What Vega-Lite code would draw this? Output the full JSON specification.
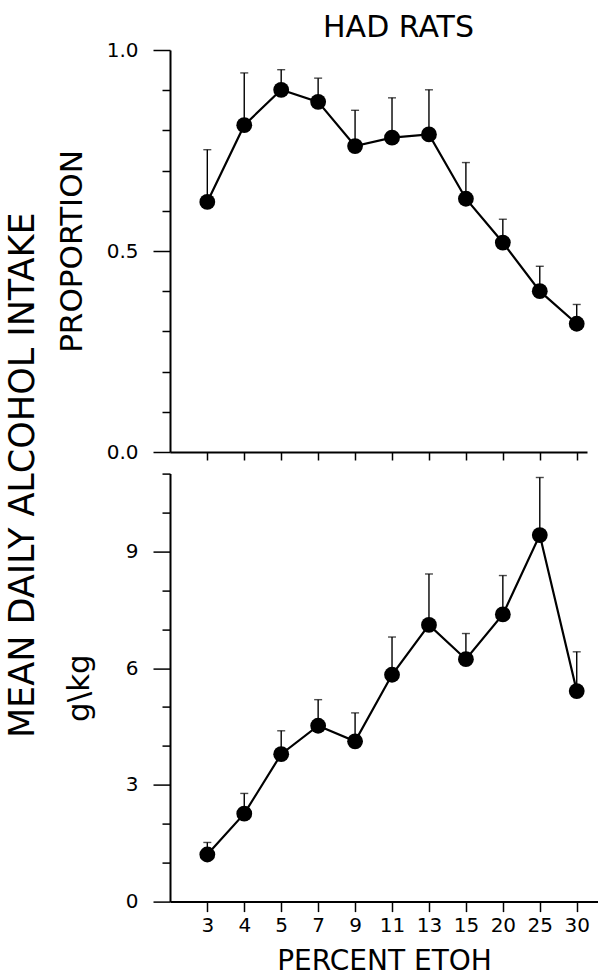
{
  "$schema": "https://vega.github.io/schema/vega-lite/v6.json",
  "background": "white",
  "padding": {"left": 5, "top": 13, "right": 0, "bottom": 0},
  "title": {
    "text": "MEAN DAILY ALCOHOL INTAKE",
    "orient": "left",
    "anchor": "middle",
    "fontSize": 35,
    "fontWeight": "normal",
    "font": "DejaVu Sans",
    "color": "black",
    "offset": 15,
    "dx": 19
  },
  "data": {
    "values": [
      {"pct": 3, "prop": 0.622, "prop_hi": 0.752, "gkg": 1.21, "gkg_hi": 1.52},
      {"pct": 4, "prop": 0.813, "prop_hi": 0.943, "gkg": 2.26, "gkg_hi": 2.78},
      {"pct": 5, "prop": 0.901, "prop_hi": 0.951, "gkg": 3.79, "gkg_hi": 4.39},
      {"pct": 7, "prop": 0.871, "prop_hi": 0.930, "gkg": 4.52, "gkg_hi": 5.19},
      {"pct": 9, "prop": 0.761, "prop_hi": 0.850, "gkg": 4.12, "gkg_hi": 4.85},
      {"pct": 11, "prop": 0.782, "prop_hi": 0.881, "gkg": 5.83, "gkg_hi": 6.80},
      {"pct": 13, "prop": 0.790, "prop_hi": 0.901, "gkg": 7.11, "gkg_hi": 8.42},
      {"pct": 15, "prop": 0.630, "prop_hi": 0.720, "gkg": 6.23, "gkg_hi": 6.89},
      {"pct": 20, "prop": 0.521, "prop_hi": 0.579, "gkg": 7.38, "gkg_hi": 8.38},
      {"pct": 25, "prop": 0.400, "prop_hi": 0.462, "gkg": 9.42, "gkg_hi": 10.90},
      {"pct": 30, "prop": 0.319, "prop_hi": 0.367, "gkg": 5.41, "gkg_hi": 6.42}
    ]
  },
  "spacing": 10.6,
  "resolve": {"scale": {"x": "independent", "y": "independent"}},
  "vconcat": [
    {
      "width": 417,
      "height": 402,
      "title": {
        "text": "HAD RATS",
        "fontSize": 30,
        "fontWeight": "normal",
        "font": "DejaVu Sans",
        "color": "black",
        "anchor": "middle",
        "dx": 20,
        "offset": -3
      },
      "encoding": {
        "x": {
          "field": "pct",
          "type": "ordinal",
          "scale": {"type": "point", "padding": 0.644, "align": 0.784},
          "axis": {"labels": false, "title": null, "tickSize": 8, "domainWidth": 2, "tickWidth": 1.5}
        }
      },
      "resolve": {"axis": {"y": "independent"}},
      "layer": [
        {
          "mark": {"type": "rule", "color": "black", "strokeWidth": 1.4},
          "encoding": {
            "y": {
              "field": "prop", "type": "quantitative",
              "scale": {"domain": [0, 1], "nice": false, "zero": true},
              "axis": {"orient": "left", "values": [0.1, 0.2, 0.3, 0.4, 0.6, 0.7, 0.8, 0.9], "labels": false, "domain": false, "tickSize": 8, "tickWidth": 1.5, "title": null}
            },
            "y2": {"field": "prop_hi"}
          }
        },
        {
          "mark": {"type": "tick", "orient": "horizontal", "size": 8, "thickness": 1.4, "color": "black"},
          "encoding": {"y": {"field": "prop_hi", "type": "quantitative", "axis": null}}
        },
        {
          "mark": {"type": "line", "color": "black", "strokeWidth": 2.2},
          "encoding": {
            "y": {
              "field": "prop", "type": "quantitative",
              "axis": {
                "orient": "left",
                "values": [0, 0.5, 1],
                "format": ".1f",
                "tickSize": 17,
                "tickWidth": 1.5,
                "domainWidth": 2,
                "labelFontSize": 20,
                "labelPadding": 15,
                "labelFont": "DejaVu Sans",
                "labelColor": "black",
                "title": "PROPORTION",
                "titleFontSize": 31,
                "titleFontWeight": "normal",
                "titleFont": "DejaVu Sans",
                "titleColor": "black",
                "titleX": -89,
                "titleBaseline": "alphabetic"
              }
            }
          }
        },
        {
          "mark": {"type": "point", "filled": true, "size": 250, "color": "black", "opacity": 1},
          "encoding": {"y": {"field": "prop", "type": "quantitative", "axis": null}}
        }
      ]
    },
    {
      "width": 428,
      "height": 428,
      "encoding": {
        "x": {
          "field": "pct",
          "type": "ordinal",
          "scale": {"type": "point", "padding": 0.793, "align": 0.637},
          "axis": {
            "labelAngle": 0,
            "tickSize": 10,
            "domainWidth": 2,
            "tickWidth": 1.5,
            "labelFontSize": 20,
            "labelFont": "DejaVu Sans",
            "labelColor": "black",
            "labelPadding": 4,
            "title": "PERCENT ETOH",
            "titleFontSize": 28,
            "titleFontWeight": "normal",
            "titleFont": "DejaVu Sans",
            "titleColor": "black",
            "titlePadding": 12
          }
        }
      },
      "resolve": {"axis": {"y": "independent"}},
      "layer": [
        {
          "mark": {"type": "rule", "color": "black", "strokeWidth": 1.4},
          "encoding": {
            "y": {
              "field": "gkg", "type": "quantitative",
              "scale": {"domain": [0, 11], "nice": false, "zero": true},
              "axis": {"orient": "left", "values": [1, 2, 4, 5, 7, 8, 10, 11], "labels": false, "domain": false, "tickSize": 8, "tickWidth": 1.5, "title": null}
            },
            "y2": {"field": "gkg_hi"}
          }
        },
        {
          "mark": {"type": "tick", "orient": "horizontal", "size": 8, "thickness": 1.4, "color": "black"},
          "encoding": {"y": {"field": "gkg_hi", "type": "quantitative", "axis": null}}
        },
        {
          "mark": {"type": "line", "color": "black", "strokeWidth": 2.2},
          "encoding": {
            "y": {
              "field": "gkg", "type": "quantitative",
              "axis": {
                "orient": "left",
                "values": [0, 3, 6, 9],
                "tickSize": 17,
                "tickWidth": 1.5,
                "domainWidth": 2,
                "labelFontSize": 20,
                "labelPadding": 15,
                "labelFont": "DejaVu Sans",
                "labelColor": "black",
                "title": "g\\kg",
                "titleFontSize": 31,
                "titleFontWeight": "normal",
                "titleFont": "DejaVu Sans",
                "titleColor": "black",
                "titleX": -82,
                "titleBaseline": "alphabetic"
              }
            }
          }
        },
        {
          "mark": {"type": "point", "filled": true, "size": 250, "color": "black", "opacity": 1},
          "encoding": {"y": {"field": "gkg", "type": "quantitative", "axis": null}}
        }
      ]
    }
  ],
  "config": {
    "view": {"stroke": null},
    "font": "DejaVu Sans",
    "axis": {"grid": false, "domainColor": "black", "tickColor": "black", "labelColor": "black", "titleColor": "black"}
  }
}
